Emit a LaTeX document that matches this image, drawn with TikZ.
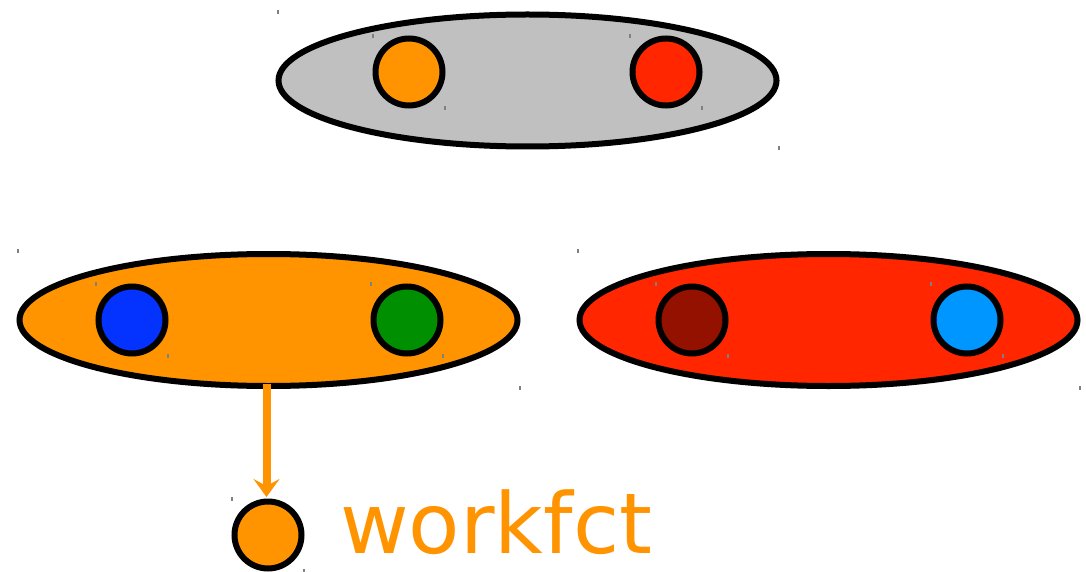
\documentclass[tikz,border=0pt]{standalone}
\usepackage{fontspec}
\newfontfamily\labelfont{DejaVu Sans}
\usetikzlibrary{shapes.geometric,arrows.meta}
\definecolor{cTangerine}{HTML}{FF9300}
\definecolor{cRed}{HTML}{FF2600}
\definecolor{cSilver}{HTML}{C0C0C0}
\definecolor{cBlue}{HTML}{0433FF}
\definecolor{cGreen}{HTML}{008F00}
\definecolor{cCayenne}{HTML}{941100}
\definecolor{cAqua}{HTML}{0096FF}
\tikzset{
  group/.style={ellipse,draw=black,line width=6pt,minimum width=498pt,minimum height=132pt,inner sep=0pt},
  dot/.style={circle,draw=black,line width=6pt,minimum size=67pt,inner sep=0pt},
  tick/.style={draw=gray,line width=1.2pt},
}
\begin{document}
\begin{tikzpicture}[x=1pt,y=-1pt]
\useasboundingbox (0,0) rectangle (1086,572);
% groups
\node[group,fill=cSilver] (top) at (527.5,80.5) {};
\node[group,fill=cTangerine] (left) at (268.5,320) {};
\node[group,fill=cRed] (right) at (828.5,320) {};
% dots
\node[dot,fill=cTangerine] (t1) at (409,72) {};
\node[dot,fill=cRed] (t2) at (666,72) {};
\node[dot,fill=cBlue] (l1) at (132,320) {};
\node[dot,fill=cGreen] (l2) at (407,320) {};
\node[dot,fill=cCayenne] (r1) at (692,320) {};
\node[dot,fill=cAqua] (r2) at (967,320) {};
\node[dot,fill=cTangerine] (w) at (268,535) {};
% label
\node[anchor=base west,inner sep=0pt,text=cTangerine,font=\labelfont\fontsize{84}{90}\selectfont] (wl) at (340,553) {workfct};
% arrow
\coordinate (as) at (266.5,384);
\coordinate (ae) at (266.5,497);
\draw[cTangerine,line width=8pt,-{Stealth[length=18pt,width=26pt,inset=7pt]}] (as) -- (ae);
% tiny bounding ticks
\foreach \x/\y in {278/12,779/148,373/36,445/108,630/36,702/108,18/251,520/388,96/284,168/356,371/284,443/356,578/251,1080/388,656/284,728/356,931/284,1003/356,232/499,304/571}{
  \draw[tick] (\x,\y-2) -- (\x,\y+2);
}
\end{tikzpicture}
\end{document}
